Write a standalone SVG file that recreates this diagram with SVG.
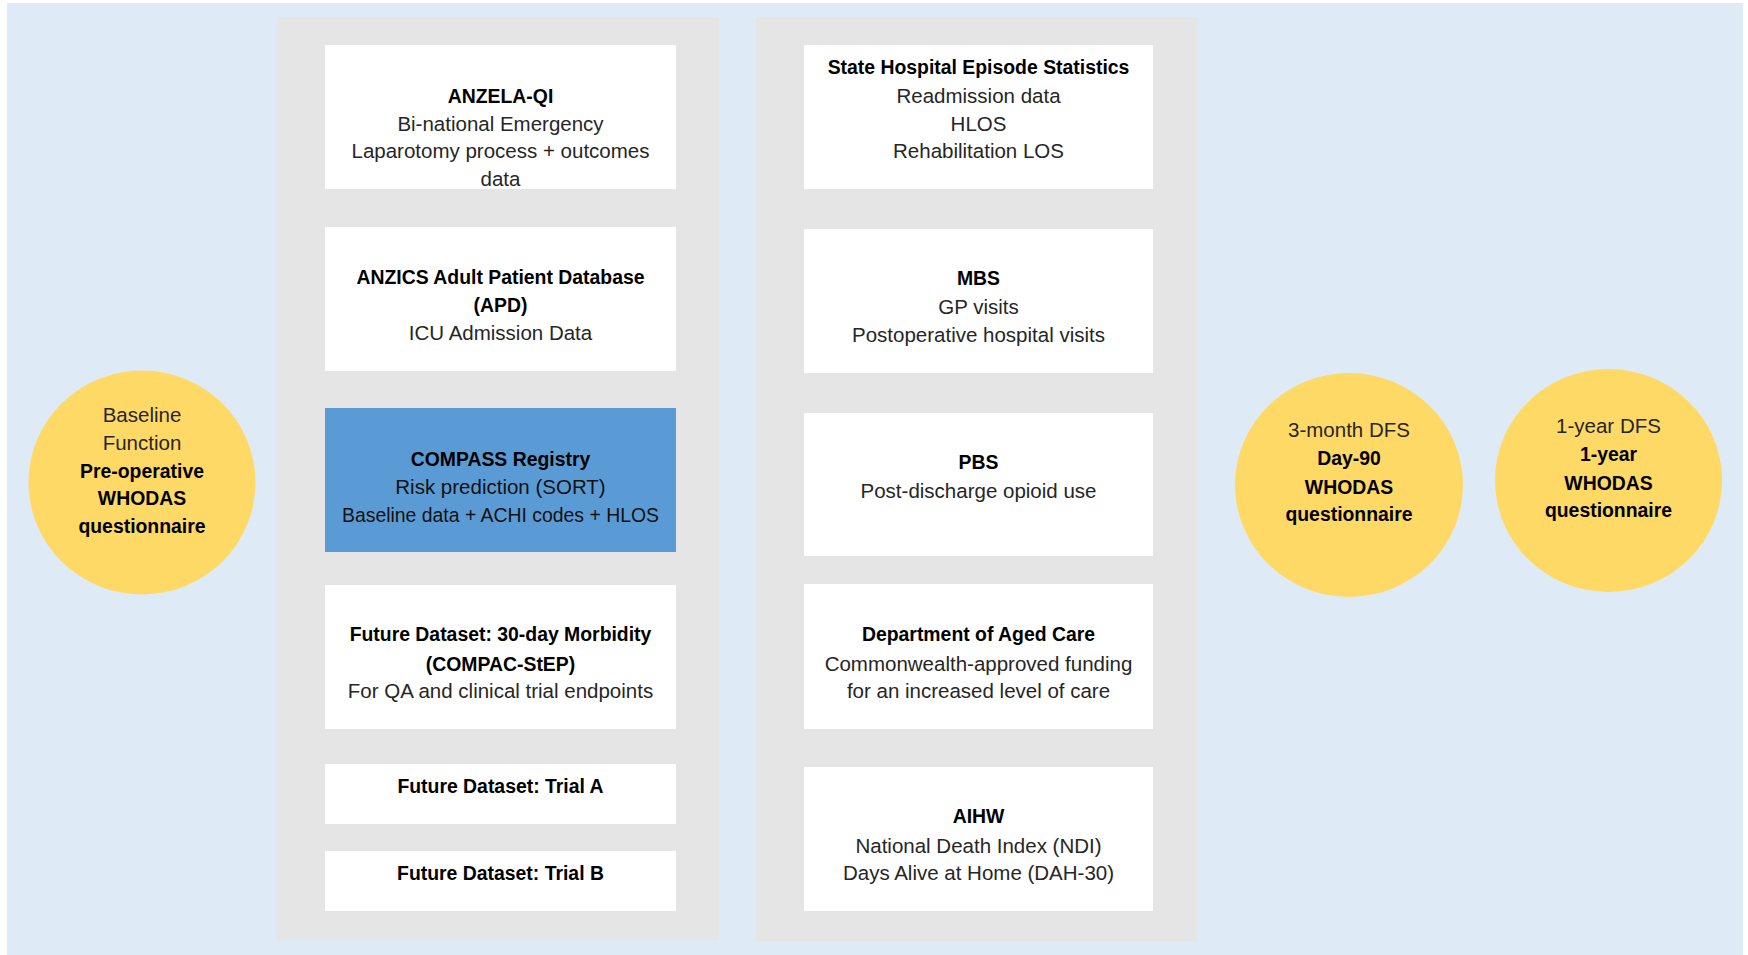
<svg xmlns="http://www.w3.org/2000/svg" width="1748" height="955" viewBox="0 0 1748 955">
<style>
  text { font-family: "Liberation Sans", Arial, sans-serif; text-anchor: middle; }
  .r { font-size: 20.5px; fill: #262626; }
  .b { font-size: 19.4px; font-weight: bold; fill: #000; }
  .panel { fill: #E5E5E5; }
  .box { fill: #FFFFFF; }
  .hl { fill: #5B9BD5; }
  .circ { fill: #FFD966; }
</style>
<rect x="0" y="0" width="1748" height="955" fill="#FFFFFF"/>
<rect id="background" x="7" y="3" width="1736" height="952" fill="#DEEAF6"/>
<g id="panels">
  <rect id="panel-left" class="panel" x="277" y="17" width="442" height="923"/>
  <rect id="panel-right" class="panel" x="756" y="17" width="441" height="924"/>
</g>

<g id="node-baseline">
  <ellipse class="circ" cx="142" cy="482.5" rx="113.5" ry="112"/>
  <text class="r" x="142" y="421.5">Baseline</text>
  <text class="r" x="142" y="450">Function</text>
  <text class="b" x="142" y="477.5">Pre-operative</text>
  <text class="b" x="142" y="505">WHODAS</text>
  <text class="b" x="142" y="532.5">questionnaire</text>
</g>

<g id="node-anzela">
  <rect class="box" x="325" y="45" width="351" height="144"/>
  <text class="b" x="500.5" y="102.7">ANZELA-QI</text>
  <text class="r" x="500.5" y="130.5">Bi-national Emergency</text>
  <text class="r" x="500.5" y="158.3">Laparotomy process + outcomes</text>
  <text class="r" x="500.5" y="186">data</text>
</g>

<g id="node-anzics">
  <rect class="box" x="325" y="227" width="351" height="144"/>
  <text class="b" x="500.5" y="284">ANZICS Adult Patient Database</text>
  <text class="b" x="500.5" y="312">(APD)</text>
  <text class="r" x="500.5" y="340">ICU Admission Data</text>
</g>

<g id="node-compass">
  <rect class="hl" x="325" y="408" width="351" height="144"/>
  <text class="b" x="500.5" y="465.5">COMPASS Registry</text>
  <text class="r" x="500.5" y="494" style="fill:#111">Risk prediction (SORT)</text>
  <text class="r" x="500.5" y="521.7" style="fill:#111" textLength="317" lengthAdjust="spacingAndGlyphs">Baseline data + ACHI codes + HLOS</text>
</g>

<g id="node-morbidity">
  <rect class="box" x="325" y="585" width="351" height="144"/>
  <text class="b" x="500.5" y="641">Future Dataset: 30-day Morbidity</text>
  <text class="b" x="500.5" y="670.5">(COMPAC-StEP)</text>
  <text class="r" x="500.5" y="697.7">For QA and clinical trial endpoints</text>
</g>

<g id="node-trial-a">
  <rect class="box" x="325" y="764" width="351" height="60"/>
  <text class="b" x="500.5" y="793">Future Dataset: Trial A</text>
</g>

<g id="node-trial-b">
  <rect class="box" x="325" y="851" width="351" height="60"/>
  <text class="b" x="500.5" y="880">Future Dataset: Trial B</text>
</g>

<g id="node-hes">
  <rect class="box" x="804" y="45" width="349" height="144"/>
  <text class="b" x="978.5" y="74">State Hospital Episode Statistics</text>
  <text class="r" x="978.5" y="103.3">Readmission data</text>
  <text class="r" x="978.5" y="131">HLOS</text>
  <text class="r" x="978.5" y="158.3">Rehabilitation LOS</text>
</g>

<g id="node-mbs">
  <rect class="box" x="804" y="229" width="349" height="144"/>
  <text class="b" x="978.5" y="285">MBS</text>
  <text class="r" x="978.5" y="314.3">GP visits</text>
  <text class="r" x="978.5" y="342.3">Postoperative hospital visits</text>
</g>

<g id="node-pbs">
  <rect class="box" x="804" y="413" width="349" height="143"/>
  <text class="b" x="978.5" y="469">PBS</text>
  <text class="r" x="978.5" y="497.7">Post-discharge opioid use</text>
</g>

<g id="node-aged-care">
  <rect class="box" x="804" y="584" width="349" height="145"/>
  <text class="b" x="978.5" y="641">Department of Aged Care</text>
  <text class="r" x="978.5" y="671">Commonwealth-approved funding</text>
  <text class="r" x="978.5" y="697.7">for an increased level of care</text>
</g>

<g id="node-aihw">
  <rect class="box" x="804" y="767" width="349" height="144"/>
  <text class="b" x="978.5" y="823.3">AIHW</text>
  <text class="r" x="978.5" y="852.7">National Death Index (NDI)</text>
  <text class="r" x="978.5" y="880">Days Alive at Home (DAH-30)</text>
</g>

<g id="node-3month">
  <ellipse class="circ" cx="1349" cy="485" rx="114" ry="112"/>
  <text class="r" x="1349" y="437.3">3-month DFS</text>
  <text class="b" x="1349" y="465">Day-90</text>
  <text class="b" x="1349" y="494">WHODAS</text>
  <text class="b" x="1349" y="520.7">questionnaire</text>
</g>

<g id="node-1year">
  <ellipse class="circ" cx="1608.5" cy="480.5" rx="113.5" ry="111.5"/>
  <text class="r" x="1608.5" y="433.3">1-year DFS</text>
  <text class="b" x="1608.5" y="461">1-year</text>
  <text class="b" x="1608.5" y="489.7">WHODAS</text>
  <text class="b" x="1608.5" y="517">questionnaire</text>
</g>

<g id="connectors"></g>
</svg>
